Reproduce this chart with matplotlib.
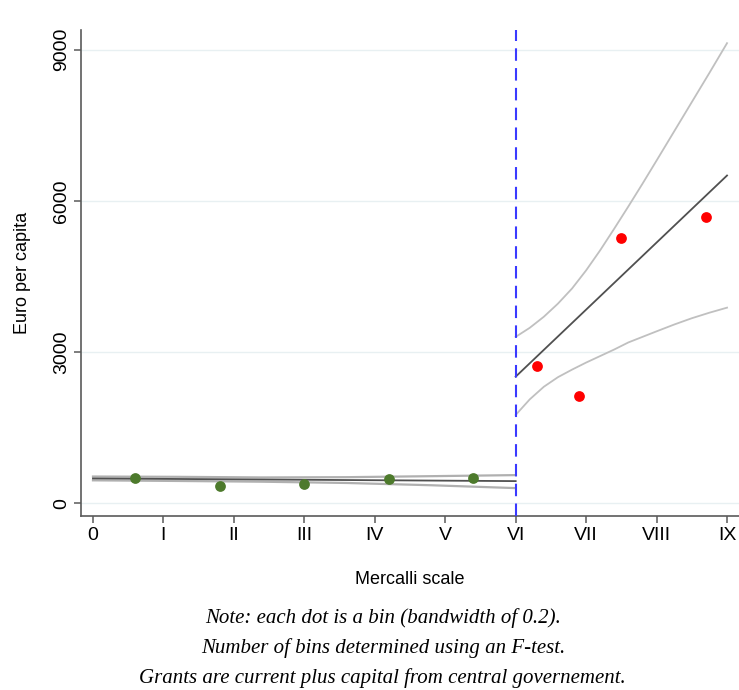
import numpy as np
import matplotlib.pyplot as plt

# binned means (bandwidth 0.2)
bins_left_x = [0.6, 1.8, 3.0, 4.2, 5.4]
bins_left_y = [497, 340, 377, 477, 497]
bins_right_x = [6.3, 6.9, 7.5, 8.7]
bins_right_y = [2725, 2130, 5265, 5676]

# fitted lines and confidence bands
fit_left_x = [0, 6]
fit_left_y = [490, 437]
ci_left_x = [0, 1.2, 2.4, 3.6, 4.8, 6.0]
ci_left_hi = [528, 522, 510, 515, 535, 556]
ci_left_lo = [452, 440, 425, 400, 355, 298]

fit_right_x = [6, 9]
fit_right_y = [2510, 6503]
ci_right_x = [6.0, 6.2, 6.4, 6.6, 6.8, 7.0, 7.2, 7.4, 7.6, 7.8, 8.0,
              8.25, 8.5, 8.75, 9.0]
ci_right_hi = [3300, 3480, 3700, 3960, 4260, 4620, 5020, 5450, 5890, 6340,
               6800, 7380, 7960, 8540, 9130]
ci_right_lo = [1750, 2060, 2310, 2500, 2650, 2790, 2920, 3050, 3190, 3300,
               3410, 3545, 3670, 3780, 3880]

cutoff = 6
xtick_labels = ['0', 'I', 'II', 'III', 'IV', 'V', 'VI', 'VII', 'VIII', 'IX']
yticks = [0, 3000, 6000, 9000]

notes = ['Note: each dot is a bin (bandwidth of 0.2).',
         'Number of bins determined using an F-test.',
         'Grants are current plus capital from central governement.']

plt.rcParams['font.family'] = ['Liberation Sans', 'DejaVu Sans']

fig = plt.figure(figsize=(7.39, 6.9), dpi=100)
ax = fig.add_axes([0.1096, 0.252, 0.8904, 0.705])

ax.set_xlim(-0.17, 9.17)
ax.set_ylim(-258, 9398)

for y in yticks:
    ax.axhline(y, color='#e8f0f2', lw=1, zorder=0)

# left of cutoff
ax.plot(ci_left_x, ci_left_hi, color='#b0b0b0', lw=1.6, zorder=2)
ax.plot(ci_left_x, ci_left_lo, color='#b0b0b0', lw=1.6, zorder=2)
ax.plot(fit_left_x, fit_left_y, color='#505050', lw=1.3, zorder=3)
ax.scatter(bins_left_x, bins_left_y, s=60, color='#4d7a2c', zorder=4, linewidths=0)

# right of cutoff
ax.plot(ci_right_x, ci_right_hi, color='#c0c0c0', lw=1.3, zorder=2)
ax.plot(ci_right_x, ci_right_lo, color='#c0c0c0', lw=1.3, zorder=2)
ax.plot(fit_right_x, fit_right_y, color='#505050', lw=1.3, zorder=3)
ax.scatter(bins_right_x, bins_right_y, s=60, color='#ff0000', zorder=4, linewidths=0)

ax.axvline(cutoff, color='#3a3aff', lw=1.5, dashes=(6, 3.5), zorder=5)

for side in ['top', 'right']:
    ax.spines[side].set_visible(False)
for side in ['left', 'bottom']:
    ax.spines[side].set_color('#5a5a5a')
    ax.spines[side].set_linewidth(1.2)

ax.set_xticks(range(len(xtick_labels)))
ax.set_xticklabels(xtick_labels)
ax.set_yticks(yticks)
ax.set_yticklabels([str(v) for v in yticks], rotation=90, va='center')
ax.tick_params(axis='both', length=5, width=1.1, color='#5a5a5a',
               labelsize=14, pad=3)

ax.set_xlabel('Mercalli scale', fontsize=13, labelpad=19)
ax.set_ylabel('Euro per capita', fontsize=13, labelpad=16)

for i, line in enumerate(notes):
    fig.text(0.518, 0.104 - i * 0.0435, line, ha='center', va='center',
             fontsize=15, style='italic', family='Liberation Serif')

fig.savefig('out.png', dpi=100)
